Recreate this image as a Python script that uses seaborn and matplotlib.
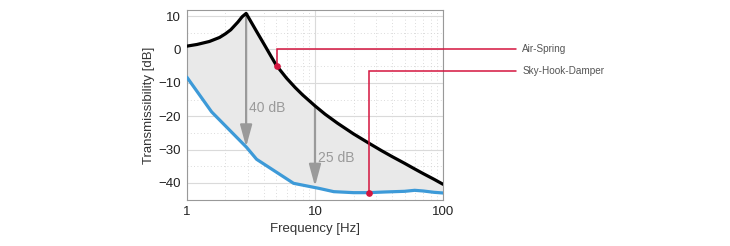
import numpy as np
import pandas as pd
import matplotlib.pyplot as plt
import seaborn as sns
from matplotlib.ticker import FixedLocator, NullFormatter

# Werte
freq_spring = [1, 1.2, 1.5, 1.8, 2.0, 2.2, 2.5, 2.7, 2.9, 3.1, 3.3, 3.5, 4, 4.5, 5, 6, 7, 8,
               10, 12, 15, 20, 26.4, 33, 40, 50, 60, 70, 85, 100]
db_spring = [1.0, 1.5, 2.4, 3.6, 4.7, 5.9, 8.2, 9.8, 10.8, 8.9, 7.1, 5.4, 1.6, -1.8, -4.8,
             -8.6, -11.4, -13.6, -16.9, -19.4, -22.1, -25.3, -28.1, -30.3, -32.1, -34.1,
             -35.8, -37.2, -38.9, -40.4]
freq_sky = [1, 1.56, 2.92, 3.5, 6.8, 10.7, 14, 20, 26.4, 35, 50, 60, 70, 85, 100]
db_sky = [-8.3, -18.7, -29.3, -32.9, -40.1, -41.6, -42.6, -42.9, -42.9, -42.7, -42.5,
          -42.2, -42.4, -42.8, -43.0]

labels = ["Air-Spring", "Sky-Hook-Damper"]
marker_f = [5.05, 26.4]
marker_db = [-5.0, -42.9]
elbow_db = [0.0, -6.5]

arrow_f = [2.9, 10]
arrow_top = [10.8, -16.9]
arrow_bottom = [-29.2, -41.0]
arrow_text = ["40 dB", "25 dB"]
arrow_text_db = [-17.6, -32.6]

sns.set_theme(style="whitegrid")
plt.rcParams['font.family'] = ['Liberation Sans', 'DejaVu Sans']

fig = plt.figure(figsize=(7.3, 2.46), dpi=100)
ax = fig.add_axes([0.256, 0.187, 0.351, 0.772])

df_spring = pd.DataFrame({"f": freq_spring, "db": db_spring})
df_sky = pd.DataFrame({"f": freq_sky, "db": db_sky})

# graue Flaeche zwischen den Kurven
f_common = np.array(sorted(set(freq_spring) | set(freq_sky)))
lo = np.interp(np.log10(f_common), np.log10(freq_sky), db_sky)
hi = np.interp(np.log10(f_common), np.log10(freq_spring), db_spring)
ax.fill_between(f_common, lo, hi, color="#e9e9e9", zorder=1, lw=0)

sns.lineplot(data=df_spring, x="f", y="db", color="black", lw=2.3, ax=ax, zorder=4)
sns.lineplot(data=df_sky, x="f", y="db", color="#3d9ad8", lw=2.3, ax=ax, zorder=4)

ax.set_xscale("log")
ax.set_xlim(1, 100)
ax.set_ylim(-45.1, 11.8)
ax.set_xticks([1, 10, 100])
ax.set_xticklabels(["1", "10", "100"])
ax.set_yticks([-40, -30, -20, -10, 0, 10])
ax.yaxis.set_minor_locator(FixedLocator(np.arange(-45, 12, 5)))
ax.xaxis.set_minor_formatter(NullFormatter())

ax.grid(which="major", color="#dadada", lw=0.8, ls="-")
ax.grid(which="minor", color="#cfcfcf", lw=0.6, ls=(0, (1, 3)))
ax.set_axisbelow(True)
for s in ax.spines.values():
    s.set_color("#999999")
    s.set_linewidth(0.8)
ax.tick_params(which="major", direction="in", length=3, color="#999999",
               labelsize=9.5, labelcolor="#222222", pad=4)
ax.tick_params(which="minor", length=0)

ax.set_xlabel("Frequency [Hz]", fontsize=9.5, color="#333333", labelpad=4)
ax.set_ylabel("Transmissibility [dB]", fontsize=9.5, color="#333333", labelpad=3)

# Pfeile
for f, top, bot, txt, tdb in zip(arrow_f, arrow_top, arrow_bottom, arrow_text, arrow_text_db):
    ax.annotate("", xy=(f, bot), xytext=(f, top),
                arrowprops=dict(arrowstyle="-|>,head_width=0.3,head_length=1.1",
                                color="#9a9a9a", lw=1.6, shrinkA=0, shrinkB=0),
                zorder=3)
    ax.text(f * 1.06, tdb, txt, fontsize=10, color="#9a9a9a", va="center", ha="left", zorder=5)

# rote Hinweislinien
red = "#d4153f"
end_f = 370
for f, mdb, edb, lab in zip(marker_f, marker_db, elbow_db, labels):
    ax.plot([f, f, end_f], [mdb, edb, edb], color=red, lw=1.1, clip_on=False, zorder=6,
            solid_joinstyle="miter")
    ax.plot([f], [mdb], "o", color=red, ms=3.8, zorder=7, clip_on=False)
    ax.text(end_f * 1.12, edb, lab, fontsize=7.2, color="#555555", va="center", ha="left",
            clip_on=False)

fig.savefig("out.png", dpi=100)
